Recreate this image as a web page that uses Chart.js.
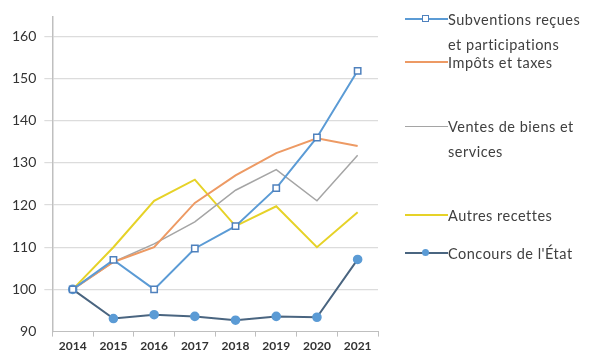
<!DOCTYPE html>
<html>
<head>
<meta charset="utf-8">
<script src="https://cdn.jsdelivr.net/npm/chart.js@4.4.1/dist/chart.umd.min.js"></script>
<style>
  html, body { margin: 0; padding: 0; background: #fff; }
  #wrap { position: relative; width: 611px; height: 358px; }
  #legend { position: absolute; left: 0; top: 0; font-family: Lato, sans-serif; font-size: 14.5px; letter-spacing: 0.5px; color: #404040; }
  .item { position: absolute; left: 405px; display: flex; align-items: flex-start; }
  .sw { position: relative; width: 43px; height: 16px; flex: none; }
  .sw .ln { position: absolute; left: 0; right: 0; top: 7px; height: 2px; }
  .sw .mk { position: absolute; left: 17px; top: 4px; width: 7px; height: 7px; }
  .txt { line-height: 25px; margin-top: -4px; white-space: nowrap; }
</style>
</head>
<body>
<div id="wrap">
  <canvas id="chart" width="611" height="358"></canvas>
  <div id="legend"></div>
</div>
<script>
// years and index values (base 100 in 2014)
const years = ['2014', '2015', '2016', '2017', '2018', '2019', '2020', '2021'];
const subventions = [100, 107, 100, 109.7, 115, 124, 136, 151.8];
const impots = [100, 106.5, 110, 120.5, 127, 132.3, 135.8, 134];
const ventes = [100, 106.5, 110.8, 116, 123.5, 128.4, 121, 131.8];
const autres = [100, 110, 121, 126, 115, 119.7, 110, 118.3];
const concours = [100, 93.1, 94, 93.6, 92.7, 93.6, 93.4, 107.1];
const yTicks = [90, 100, 110, 120, 130, 140, 150, 160];

const seriesNames = [
    ['Subventions reçues', 'et participations'],
    ['Impôts et taxes'],
    ['Ventes de biens et', 'services'],
    ['Autres recettes'],
    ["Concours de l'État"]
];

const ctx = document.getElementById('chart').getContext('2d');

new Chart(ctx, {
    type: 'line',
    data: {
        labels: years,
        datasets: [
            {
                label: seriesNames[0].join(' '),
                data: subventions,
                borderColor: '#5b9bd5',
                borderWidth: 2,
                pointStyle: 'rect',
                pointRadius: 4.5,
                pointBackgroundColor: '#ffffff',
                pointBorderColor: '#4f81bd',
                pointBorderWidth: 1.5
            },
            {
                label: seriesNames[1].join(' '),
                data: impots,
                borderColor: '#ed9a64',
                borderWidth: 2,
                pointRadius: 0
            },
            {
                label: seriesNames[2].join(' '),
                data: ventes,
                borderColor: '#a5a5a5',
                borderWidth: 1.5,
                pointRadius: 0
            },
            {
                label: seriesNames[3].join(' '),
                data: autres,
                borderColor: '#e6d228',
                borderWidth: 2,
                pointRadius: 0
            },
            {
                label: seriesNames[4].join(' '),
                data: concours,
                borderColor: '#4a6580',
                borderWidth: 2,
                pointRadius: 3.8,
                pointBackgroundColor: '#5b9bd5',
                pointBorderColor: '#5b9bd5'
            }
        ]
    },
    options: {
        responsive: false,
        animation: false,
        layout: { padding: { left: 4, top: 15, right: 233, bottom: 3 } },
        plugins: {
            legend: { display: false },
            tooltip: { enabled: false }
        },
        scales: {
            x: {
                offset: true,
                grid: {
                    offset: true,
                    drawOnChartArea: false,
                    color: '#bfbfbf',
                    tickLength: 5
                },
                border: { color: '#bfbfbf' },
                ticks: {
                    color: '#333',
                    font: { family: 'Lato', size: 12, weight: 'bold' },
                    padding: 2,
                    maxRotation: 0,
                    autoSkip: false
                }
            },
            y: {
                min: 90,
                max: 164.7,
                afterBuildTicks: scale => {
                    scale.ticks = yTicks.map(v => ({ value: v }));
                },
                grid: {
                    color: ctx => ctx.tick && ctx.tick.value === 90 ? 'rgba(0,0,0,0)' : '#dcdcdc',
                    tickLength: 8,
                    lineWidth: 1.2
                },
                border: { color: '#bfbfbf', width: 1.5 },
                ticks: {
                    color: '#333',
                    font: { family: 'Lato', size: 14 },
                    padding: 8
                }
            }
        }
    }
});

// legend drawn as HTML next to the chart
const legendItems = [
    { top: 11, color: '#5b9bd5', marker: 'square' },
    { top: 54, color: '#ed9a64' },
    { top: 118, color: '#a5a5a5', thin: true },
    { top: 207, color: '#e6d228' },
    { top: 245, color: '#4a6580', marker: 'dot' }
];

const legend = document.getElementById('legend');
legendItems.forEach((it, i) => {
    const el = document.createElement('div');
    el.className = 'item';
    el.style.top = it.top + 'px';
    let mk = '';
    if (it.marker === 'square') {
        mk = '<div class="mk" style="background:#fff;border:1.5px solid #4f81bd;box-sizing:border-box;"></div>';
    } else if (it.marker === 'dot') {
        mk = '<div class="mk" style="background:#5b9bd5;border-radius:50%;"></div>';
    }
    el.innerHTML = '<div class="sw"><div class="ln" style="background:' + it.color + ';' +
        (it.thin ? 'height:1px;top:8px;' : '') + '"></div>' + mk + '</div>' +
        '<div class="txt">' + seriesNames[i].join('<br>') + '</div>';
    legend.appendChild(el);
});
</script>
</body>
</html>
